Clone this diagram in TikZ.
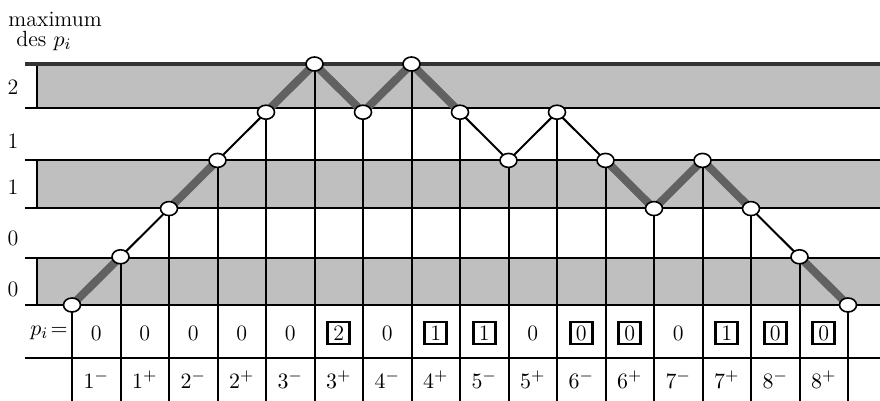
\documentclass[tikz,border=0pt]{standalone}
\usetikzlibrary{shapes.geometric}
\begin{document}
\begin{tikzpicture}[x=0.5pt,y=-0.5pt,
  grid/.style={line width=1pt,black},
  band/.style={fill=black!25,draw=none},
  pt/.style={ellipse,draw,line width=0.8pt,fill=white,minimum width=8.5pt,minimum height=7pt,inner sep=0pt},
  thick seg/.style={line width=4pt,black!62},
  val/.style={font=\fontsize{11}{13}\selectfont,inner sep=0pt},
  boxed/.style={val,draw,line width=1.3pt,minimum width=11pt,minimum height=11pt},
  lab/.style={font=\fontsize{11}{13}\selectfont,inner sep=0pt}]
\useasboundingbox (0,0) rectangle (880,401);
% shaded bands
\fill[band] (37,64) rectangle (880,108);
\fill[band] (37,160) rectangle (880,208);
\fill[band] (37,258) rectangle (880,305);
\draw[grid] (37,64) -- (37,108);
\draw[grid] (37,160) -- (37,208);
\draw[grid] (37,258) -- (37,305);
% horizontal lines
\draw[line width=1.6pt,black!80] (25,64) -- (880,64);
\foreach \yy in {108,160,208,258,305,358}
  \draw[grid] (25,\yy) -- (880,\yy);
% point positions
\foreach \k/\lv in {0/0,1/1,2/2,3/3,4/4,5/5,6/4,7/5,8/4,9/3,10/4,11/3,12/2,13/3,14/2,15/1,16/0}{
  \pgfmathsetmacro\px{72+48.5*\k}
  \pgfmathsetmacro\py{305-48.2*\lv}
  \coordinate (c\k) at (\px,\py);
  \coordinate (b\k) at (\px,401);
}
% verticals
\foreach \k in {0,...,16} \draw[grid] (c\k) -- (b\k);
% thin path
\draw[line width=1pt] (c0) \foreach \k in {1,...,16}{ -- (c\k)};
% thick segments
\draw[thick seg] (c0) -- (c1);
\draw[thick seg] (c2) -- (c3);
\draw[thick seg] (c4) -- (c5) -- (c6) -- (c7) -- (c8);
\draw[thick seg] (c11) -- (c12) -- (c13) -- (c14);
\draw[thick seg] (c15) -- (c16);
% circles
\foreach \k in {0,...,16} \node[pt] (p\k) at (c\k) {};
% left labels
\node[lab,anchor=west] (tmax) at (8,19) {maximum};
\node[lab,anchor=west] (tdes) at (16,41) {des $p_{i}$};
\node[lab] (l5) at (13,87) {2};
\node[lab] (l4) at (13,141) {1};
\node[lab] (l3) at (13,187) {1};
\node[lab] (l2) at (13,238) {0};
\node[lab] (l1) at (13,289) {0};
\node[lab,anchor=east] (peq) at (68,333) {$p_{i}\!=$};
% values
\foreach \k/\v/\b in {0/0/0,1/0/0,2/0/0,3/0/0,4/0/0,5/2/1,6/0/0,7/1/1,8/1/1,9/0/0,10/0/1,11/0/1,12/0/0,13/1/1,14/0/1,15/0/1}{
  \pgfmathsetmacro\mx{72+48.5*\k+24.25}
  \ifnum\b=1
    \node[boxed] (v\k) at (\mx,333) {\v};
  \else
    \node[val] (v\k) at (\mx,333) {\v};
  \fi
}
% bottom labels
\foreach \k/\t in {0/$1^{-}$,1/$1^{+}$,2/$2^{-}$,3/$2^{+}$,4/$3^{-}$,5/$3^{+}$,6/$4^{-}$,7/$4^{+}$,8/$5^{-}$,9/$5^{+}$,10/$6^{-}$,11/$6^{+}$,12/$7^{-}$,13/$7^{+}$,14/$8^{-}$,15/$8^{+}$}{
  \pgfmathsetmacro\mx{72+48.5*\k+24.25}
  \node[lab] (s\k) at (\mx,380) {\t};
}
\end{tikzpicture}
\end{document}
